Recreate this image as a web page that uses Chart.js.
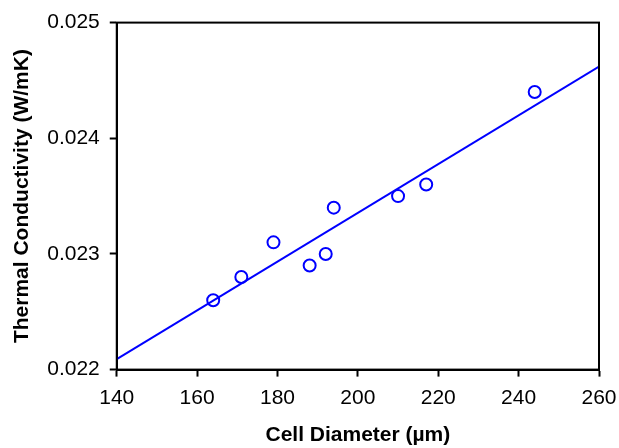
<!DOCTYPE html>
<html>
<head>
<meta charset="utf-8">
<script src="https://cdn.jsdelivr.net/npm/chart.js@4"></script>
<style>
  html, body { margin: 0; padding: 0; background: #fff; }
  #wrap { width: 619px; height: 448px; }
</style>
</head>
<body>
<div id="wrap"><canvas id="chart" width="619" height="448"></canvas></div>
<script>
const cellDiameter = [164, 171, 179, 188, 192, 194, 210, 217, 244];
const conductivity = [0.0226, 0.0228, 0.0231, 0.0229, 0.0230, 0.0234, 0.0235, 0.0236, 0.0244];

// fitted line, ends at the axis limits
const fitX = [140, 260];
const fitY = [0.02209, 0.02462];

const xTicks = [140, 160, 180, 200, 220, 240, 260];
const yTicks = [0.022, 0.023, 0.024, 0.025];

const FONT = "'Liberation Sans', Arial, sans-serif";

// box round the plot area (top and right sides too)
const frameBox = {
  id: 'frameBox',
  afterDraw( chart ) {
    const { ctx, chartArea: a } = chart;
    ctx.save();
    ctx.strokeStyle = '#000';
    ctx.lineWidth = 2;
    ctx.strokeRect( a.left, a.top, a.right - a.left, a.bottom - a.top );
    ctx.restore();
  }
};

new Chart( document.getElementById('chart'), {
  type: 'scatter',
  data: {
    datasets: [
      {
        type: 'line',
        data: fitX.map( ( x, i ) => ({ x, y: fitY[i] }) ),
        borderColor: '#0000ff',
        borderWidth: 2,
        pointRadius: 0,
        fill: false
      },
      {
        data: cellDiameter.map( ( x, i ) => ({ x, y: conductivity[i] }) ),
        pointStyle: 'circle',
        pointRadius: 6,
        pointBorderWidth: 2,
        pointBorderColor: '#0000ff',
        pointBackgroundColor: '#ffffff'
      }
    ]
  },
  options: {
    responsive: false,
    animation: false,
    layout: { padding: { top: 20, right: 20, left: 5, bottom: 0 } },
    plugins: {
      legend: { display: false },
      tooltip: { enabled: false }
    },
    scales: {
      x: {
        type: 'linear',
        min: 140,
        max: 260,
        afterBuildTicks: ( axis ) => { axis.ticks = xTicks.map( v => ({ value: v }) ); },
        // last tick label fits in the layout padding already
        afterFit: ( axis ) => { axis.paddingRight = 0; },
        grid: { drawOnChartArea: false, tickLength: 7, tickWidth: 2, tickColor: '#000' },
        border: { color: '#000', width: 2 },
        ticks: { color: '#000', padding: 9, font: { family: FONT, size: 21 } },
        title: {
          display: true,
          text: 'Cell Diameter (\u00b5m)',
          color: '#000',
          padding: { top: 3, bottom: 0 },
          font: { family: FONT, size: 21, weight: 'bold' }
        }
      },
      y: {
        type: 'linear',
        min: 0.022,
        max: 0.025,
        afterBuildTicks: ( axis ) => { axis.ticks = yTicks.map( v => ({ value: v }) ); },
        grid: { drawOnChartArea: false, tickLength: 7, tickWidth: 2, tickColor: '#000' },
        border: { color: '#000', width: 2 },
        ticks: {
          color: '#000',
          padding: 10,
          font: { family: FONT, size: 21 },
          callback: ( v ) => v.toFixed(3)
        },
        title: {
          display: true,
          text: 'Thermal Conductivity (W/mK)',
          color: '#000',
          padding: { top: 5, bottom: 2 },
          font: { family: FONT, size: 21, weight: 'bold' }
        }
      }
    }
  },
  plugins: [ frameBox ]
});
</script>
</body>
</html>
